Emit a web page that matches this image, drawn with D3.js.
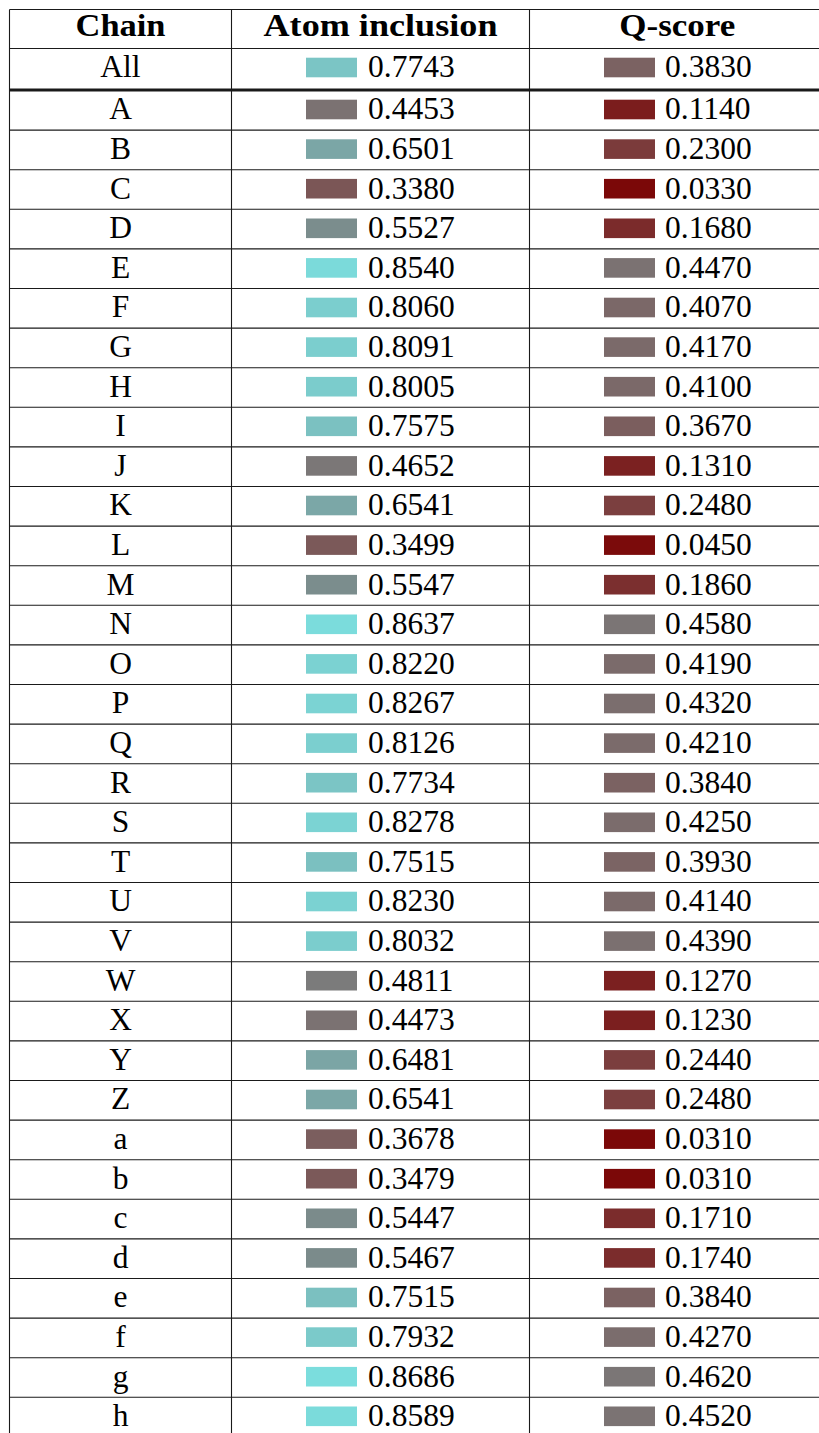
<!DOCTYPE html>
<html>
<head>
<meta charset="utf-8">
<script src="https://cdn.jsdelivr.net/npm/d3@7"></script>
<style>
  body { margin: 0; background: #fff; }
  svg { display: block; }
  text { font-family: "Liberation Serif", "DejaVu Serif", serif; fill: #000; }
</style>
</head>
<body>
<div id="chart"></div>
<script>
// table contents
const headers = ["Chain", "Atom inclusion", "Q-score"];
const totalRow = { chain: "All", atom: 0.7743, q: 0.3830 };
const chains = ["A","B","C","D","E","F","G","H","I","J","K","L","M","N","O","P","Q","R","S","T","U","V","W","X","Y","Z","a","b","c","d","e","f","g","h"];
const atomInclusion = [0.4453,0.6501,0.3380,0.5527,0.8540,0.8060,0.8091,0.8005,0.7575,0.4652,0.6541,0.3499,0.5547,0.8637,0.8220,0.8267,0.8126,0.7734,0.8278,0.7515,0.8230,0.8032,0.4811,0.4473,0.6481,0.6541,0.3678,0.3479,0.5447,0.5467,0.7515,0.7932,0.8686,0.8589];
const qScore = [0.1140,0.2300,0.0330,0.1680,0.4470,0.4070,0.4170,0.4100,0.3670,0.1310,0.2480,0.0450,0.1860,0.4580,0.4190,0.4320,0.4210,0.3840,0.4250,0.3930,0.4140,0.4390,0.1270,0.1230,0.2440,0.2480,0.0310,0.0310,0.1710,0.1740,0.3840,0.4270,0.4620,0.4520];

const width = 819, height = 1433;
const fontSize = 31.5;

const rows = chains.map((c, i) => ({ chain: c, atom: atomInclusion[i], q: qScore[i] }));

// column edges (last one runs off the page)
const colX = [9.5, 231.5, 529.5, 825];
const headerWidth = [90, 234, 116];
const tableTop = 9.5, headerBottom = 48.5, allBottom = 90;

// data rows
const y = d3.scaleBand()
  .domain(chains)
  .range([90.5, 90.5 + chains.length * 39.6]);

// value -> swatch colour (maroon -> grey -> cyan)
const color = d3.scaleLinear()
  .domain([0, 1])
  .range(["rgb(123,0,0)", "rgb(123,255,255)"]);

const svg = d3.select("#chart")
  .append("svg")
  .attr("width", width)
  .attr("height", height);

const grid = svg.append("g")
  .attr("stroke", "#1a1a1a")
  .attr("stroke-width", 1.1);

// horizontal rules
const hLines = [tableTop, headerBottom].concat(chains.slice(1).map(c => y(c)));
grid.selectAll("line.h")
  .data(hLines)
  .join("line")
  .attr("class", "h")
  .attr("x1", colX[0]).attr("x2", width)
  .attr("y1", d => d).attr("y2", d => d);

// thick rule under the "All" row
grid.append("line")
  .attr("x1", colX[0]).attr("x2", width)
  .attr("y1", allBottom).attr("y2", allBottom)
  .attr("stroke-width", 3);

// vertical rules
grid.selectAll("line.v")
  .data(colX.slice(0, 3))
  .join("line")
  .attr("class", "v")
  .attr("x1", d => d).attr("x2", d => d)
  .attr("y1", tableTop).attr("y2", height);

// header
svg.append("g")
  .selectAll("text")
  .data(headers)
  .join("text")
  .attr("x", (d, i) => (colX[i] + colX[i + 1]) / 2)
  .attr("y", 36)
  .attr("text-anchor", "middle")
  .attr("font-weight", "bold")
  .attr("font-size", 31)
  .attr("textLength", (d, i) => headerWidth[i])
  .attr("lengthAdjust", "spacingAndGlyphs")
  .text(d => d);

function drawRow(g, d, top) {
  const base = top + 28.8;
  g.append("text")
    .attr("x", (colX[0] + colX[1]) / 2)
    .attr("y", base)
    .attr("text-anchor", "middle")
    .attr("font-size", fontSize)
    .text(d.chain);

  [[d.atom, 306, 368], [d.q, 604, 665]].forEach(([v, sx, tx]) => {
    g.append("rect")
      .attr("x", sx)
      .attr("y", base - 19.6)
      .attr("width", 51)
      .attr("height", 19.6)
      .attr("fill", color(v));
    g.append("text")
      .attr("x", tx)
      .attr("y", base)
      .attr("font-size", fontSize)
      .text(d3.format(".4f")(v));
  });
}

const body = svg.append("g");
drawRow(body.append("g"), totalRow, 48.5);
rows.forEach(d => drawRow(body.append("g"), d, y(d.chain)));
</script>
</body>
</html>
